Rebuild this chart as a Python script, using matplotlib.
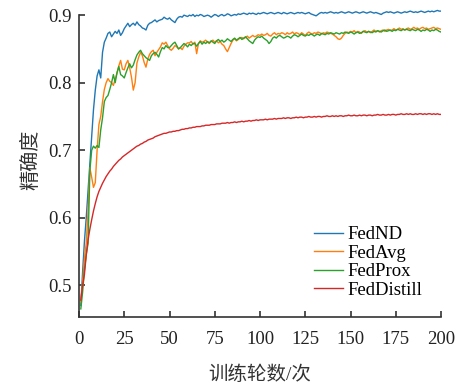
import numpy as np
import matplotlib
matplotlib.use("Agg")
import matplotlib.pyplot as plt

plt.rcParams['font.family'] = ['Liberation Serif', 'Noto Sans CJK SC']
plt.rcParams['mathtext.fontset'] = 'stix'

# 训练轮数 1..200
rounds = np.arange(1, 201)

fednd = [
    0.470, 0.520, 0.565, 0.600, 0.640, 0.680, 0.720, 0.760, 0.789, 0.810,
    0.819, 0.807, 0.845, 0.860, 0.866, 0.873, 0.875, 0.868, 0.872, 0.876,
    0.873, 0.878, 0.870, 0.874, 0.880, 0.884, 0.888, 0.883, 0.886, 0.888,
    0.885, 0.890, 0.886, 0.884, 0.881, 0.880, 0.878, 0.885, 0.888, 0.889,
    0.891, 0.893, 0.890, 0.892, 0.893, 0.894, 0.897, 0.895, 0.894, 0.896,
    0.893, 0.891, 0.889, 0.894, 0.897, 0.898, 0.897, 0.900, 0.899, 0.898,
    0.900, 0.899, 0.901, 0.898, 0.900, 0.899, 0.901, 0.900, 0.898, 0.899,
    0.900, 0.899, 0.897, 0.899, 0.901, 0.900, 0.898, 0.900, 0.901, 0.899,
    0.900, 0.902, 0.901, 0.899, 0.900, 0.901, 0.900, 0.902, 0.901, 0.902,
    0.903, 0.902, 0.901, 0.903, 0.902, 0.903, 0.902, 0.901, 0.903, 0.902,
    0.903, 0.904, 0.903, 0.902, 0.903, 0.904, 0.903, 0.902, 0.903, 0.904,
    0.903, 0.902, 0.904, 0.903, 0.902, 0.903, 0.904, 0.903, 0.902, 0.903,
    0.904, 0.903, 0.904, 0.903, 0.902, 0.903, 0.904, 0.902, 0.901, 0.900,
    0.899, 0.901, 0.903, 0.904, 0.903, 0.904, 0.903, 0.904, 0.905, 0.904,
    0.903, 0.904, 0.903, 0.904, 0.905, 0.904, 0.903, 0.904, 0.905, 0.904,
    0.903, 0.904, 0.905, 0.904, 0.903, 0.904, 0.905, 0.904, 0.903, 0.904,
    0.905, 0.904, 0.903, 0.904, 0.903, 0.902, 0.901, 0.903, 0.904, 0.905,
    0.904, 0.905, 0.904, 0.903, 0.904, 0.905, 0.904, 0.903, 0.904, 0.905,
    0.904, 0.905, 0.906, 0.905, 0.904, 0.905, 0.904, 0.905, 0.906, 0.905,
    0.904, 0.905, 0.906, 0.905, 0.906, 0.905, 0.906, 0.907, 0.906, 0.906,
]

fedavg = [
    0.475, 0.505, 0.540, 0.562, 0.610, 0.674, 0.660, 0.645, 0.652, 0.700,
    0.738, 0.750, 0.772, 0.790, 0.800, 0.806, 0.802, 0.800, 0.796, 0.805,
    0.814, 0.825, 0.833, 0.820, 0.819, 0.828, 0.833, 0.822, 0.808, 0.789,
    0.800, 0.829, 0.838, 0.845, 0.840, 0.830, 0.823, 0.835, 0.842, 0.846,
    0.848, 0.840, 0.845, 0.849, 0.853, 0.859, 0.857, 0.860, 0.855, 0.850,
    0.848, 0.851, 0.855, 0.853, 0.850, 0.852, 0.849, 0.854, 0.857, 0.859,
    0.859, 0.861, 0.857, 0.860, 0.843, 0.858, 0.862, 0.860, 0.861, 0.863,
    0.860, 0.858, 0.861, 0.863, 0.860, 0.862, 0.859, 0.861, 0.857, 0.855,
    0.850, 0.846, 0.852, 0.858, 0.863, 0.865, 0.862, 0.864, 0.866, 0.867,
    0.865, 0.867, 0.869, 0.866, 0.868, 0.870, 0.868, 0.869, 0.871, 0.870,
    0.872, 0.870, 0.871, 0.873, 0.870, 0.869, 0.872, 0.874, 0.871, 0.873,
    0.872, 0.874, 0.873, 0.871, 0.874, 0.872, 0.873, 0.875, 0.872, 0.874,
    0.873, 0.871, 0.874, 0.872, 0.870, 0.873, 0.875, 0.873, 0.872, 0.874,
    0.873, 0.875, 0.874, 0.872, 0.874, 0.873, 0.875, 0.874, 0.873, 0.872,
    0.870, 0.868, 0.865, 0.864, 0.866, 0.870, 0.873, 0.875, 0.874, 0.876,
    0.875, 0.877, 0.874, 0.876, 0.875, 0.873, 0.876, 0.877, 0.875, 0.876,
    0.874, 0.876, 0.878, 0.876, 0.877, 0.875, 0.877, 0.878, 0.876, 0.878,
    0.879, 0.877, 0.878, 0.880, 0.878, 0.879, 0.881, 0.879, 0.880, 0.878,
    0.880, 0.881, 0.879, 0.880, 0.882, 0.880, 0.881, 0.879, 0.881, 0.882,
    0.880, 0.881, 0.879, 0.880, 0.881, 0.882, 0.880, 0.881, 0.880, 0.879,
]

fedprox = [
    0.465, 0.490, 0.523, 0.545, 0.562, 0.670, 0.700, 0.706, 0.703, 0.707,
    0.704, 0.730, 0.748, 0.772, 0.778, 0.781, 0.790, 0.800, 0.812, 0.800,
    0.815, 0.824, 0.812, 0.810, 0.807, 0.815, 0.822, 0.828, 0.822, 0.826,
    0.834, 0.841, 0.845, 0.848, 0.843, 0.840, 0.837, 0.835, 0.833, 0.840,
    0.843, 0.845, 0.842, 0.838, 0.846, 0.852, 0.850, 0.855, 0.852, 0.852,
    0.855, 0.858, 0.860, 0.855, 0.850, 0.852, 0.855, 0.858, 0.856, 0.853,
    0.857, 0.855, 0.858, 0.858, 0.854, 0.858, 0.861, 0.857, 0.860, 0.858,
    0.861, 0.859, 0.862, 0.860, 0.858, 0.862, 0.864, 0.861, 0.863, 0.860,
    0.862, 0.865, 0.863, 0.861, 0.864, 0.866, 0.863, 0.865, 0.867, 0.864,
    0.866, 0.868, 0.865, 0.862, 0.860, 0.858, 0.863, 0.866, 0.868, 0.867,
    0.869, 0.866, 0.864, 0.862, 0.858, 0.861, 0.866, 0.868, 0.866, 0.869,
    0.870, 0.868, 0.866, 0.867, 0.869, 0.868, 0.866, 0.869, 0.871, 0.870,
    0.868, 0.870, 0.872, 0.870, 0.869, 0.871, 0.870, 0.872, 0.871, 0.869,
    0.871, 0.872, 0.870, 0.873, 0.872, 0.871, 0.873, 0.872, 0.874, 0.873,
    0.872, 0.874, 0.873, 0.872, 0.874, 0.873, 0.875, 0.874, 0.873, 0.875,
    0.874, 0.872, 0.874, 0.875, 0.873, 0.874, 0.876, 0.875, 0.874, 0.876,
    0.875, 0.874, 0.876, 0.875, 0.877, 0.876, 0.875, 0.877, 0.878, 0.876,
    0.877, 0.878, 0.876, 0.878, 0.877, 0.879, 0.878, 0.877, 0.879, 0.878,
    0.879, 0.878, 0.877, 0.879, 0.878, 0.877, 0.879, 0.878, 0.876, 0.878,
    0.877, 0.879, 0.878, 0.876, 0.878, 0.877, 0.879, 0.878, 0.876, 0.875,
]

feddistill = [
    0.478, 0.500, 0.516, 0.545, 0.567, 0.583, 0.597, 0.610, 0.621, 0.631,
    0.639, 0.645, 0.651, 0.656, 0.661, 0.665, 0.669, 0.672, 0.676, 0.679,
    0.682, 0.685, 0.687, 0.690, 0.692, 0.694, 0.696, 0.698, 0.700, 0.702,
    0.704, 0.706, 0.707, 0.709, 0.710, 0.712, 0.713, 0.715, 0.716, 0.717,
    0.718, 0.720, 0.721, 0.722, 0.723, 0.724, 0.725, 0.725, 0.726, 0.727,
    0.727, 0.728, 0.728, 0.729, 0.729, 0.730, 0.731, 0.731, 0.732, 0.732,
    0.733, 0.733, 0.734, 0.734, 0.735, 0.735, 0.735, 0.736, 0.736, 0.737,
    0.737, 0.737, 0.738, 0.738, 0.738, 0.739, 0.739, 0.739, 0.740, 0.740,
    0.740, 0.741, 0.740, 0.741, 0.741, 0.742, 0.741, 0.742, 0.742, 0.743,
    0.742, 0.743, 0.743, 0.744, 0.743, 0.744, 0.744, 0.745, 0.744, 0.745,
    0.745, 0.745, 0.746, 0.745, 0.746, 0.746, 0.746, 0.747, 0.746, 0.747,
    0.747, 0.747, 0.748, 0.747, 0.748, 0.748, 0.747, 0.748, 0.748, 0.749,
    0.748, 0.749, 0.749, 0.748, 0.749, 0.749, 0.750, 0.749, 0.749, 0.750,
    0.749, 0.750, 0.750, 0.749, 0.750, 0.750, 0.751, 0.750, 0.750, 0.751,
    0.750, 0.751, 0.750, 0.751, 0.751, 0.750, 0.751, 0.751, 0.752, 0.751,
    0.751, 0.752, 0.751, 0.751, 0.752, 0.751, 0.752, 0.752, 0.751, 0.752,
    0.752, 0.751, 0.752, 0.752, 0.753, 0.752, 0.752, 0.753, 0.752, 0.752,
    0.753, 0.752, 0.753, 0.753, 0.752, 0.753, 0.753, 0.754, 0.753, 0.753,
    0.754, 0.753, 0.754, 0.753, 0.753, 0.754, 0.753, 0.754, 0.754, 0.753,
    0.754, 0.753, 0.754, 0.754, 0.753, 0.754, 0.753, 0.754, 0.753, 0.753,
]

series = [
    ("FedND", fednd, "#1f77b4"),
    ("FedAvg", fedavg, "#ff7f0e"),
    ("FedProx", fedprox, "#2ca02c"),
    ("FedDistill", feddistill, "#d62728"),
]

xticks = [0, 25, 50, 75, 100, 125, 150, 175, 200]
yticks = [0.5, 0.6, 0.7, 0.8, 0.9]

fig = plt.figure(figsize=(4.6, 3.88), dpi=100)
ax = fig.add_axes([79 / 460, 71 / 388, 362 / 460, 314 / 388])

for name, vals, color in series:
    ax.plot(rounds, vals, color=color, lw=1.0, label=name)

ax.set_xlim(0, 200)
ax.set_ylim(0.453, 0.918)
ax.set_xticks(xticks)
ax.set_yticks(yticks)
ax.set_yticklabels(["0.5", "0.6", "0.7", "0.8", "0.9"])

for s in ["top", "right"]:
    ax.spines[s].set_visible(False)
for s in ["left", "bottom"]:
    ax.spines[s].set_linewidth(1.2)
    ax.spines[s].set_color("#333333")
ax.spines["left"].set_bounds(0.453, 0.9)

ax.tick_params(direction="in", length=4, width=1.2, color="#333333",
               labelsize=13.5, labelcolor="#222222")
ax.tick_params(axis="x", pad=10)
ax.tick_params(axis="y", pad=5)

ax.set_xlabel("训练轮数/次", fontsize=14, color="#333333", labelpad=13)
ax.set_ylabel("精确度", fontsize=14.5, color="#333333", labelpad=5)

fig.legend(loc="upper left", bbox_to_anchor=(314 / 460, 1 - 226 / 388),
           frameon=False, fontsize=13.5, borderpad=0, borderaxespad=0,
           handlelength=1.55, handletextpad=0.25, labelspacing=0.08)

fig.savefig("out.png", dpi=100)
